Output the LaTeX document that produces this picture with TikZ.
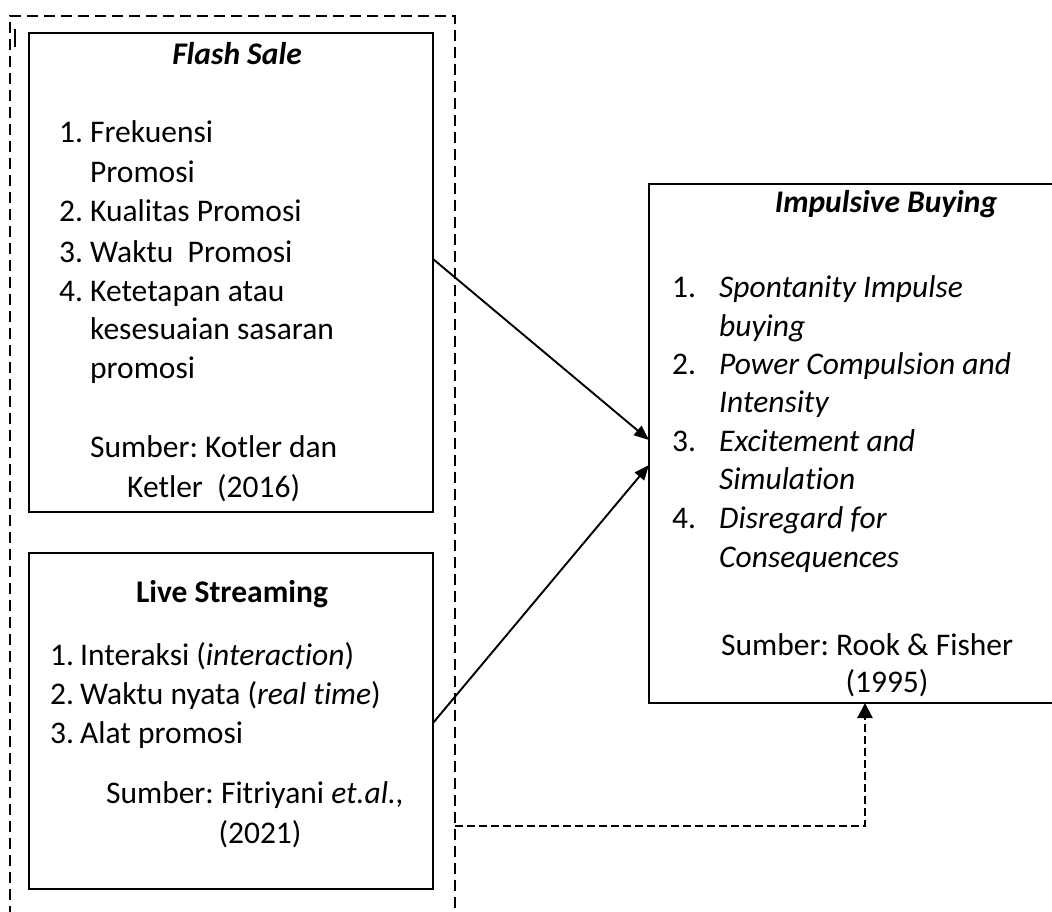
\documentclass[tikz,border=0pt]{standalone}
\usepackage{fontspec}
\setmainfont{Carlito}[Ligatures=NoCommon]
\usetikzlibrary{arrows.meta}
\begin{document}
\frenchspacing
\begin{tikzpicture}[x=1pt,y=-1pt,
  box/.style={draw,line width=2.7pt,inner sep=0pt,outer sep=0pt,anchor=north west},
  frame/.style={draw,line width=2.7pt,dash pattern=on 11pt off 6pt,inner sep=0pt,outer sep=0pt,anchor=north west},
  txt/.style={inner sep=0pt,anchor=base west,font=\fontsize{31.5}{38}\selectfont},
  ctxt/.style={txt,anchor=base},
  arr/.style={line width=1.9pt,-{Triangle[length=15pt,width=12pt]}},
  link/.style={line width=2.1pt,dash pattern=on 8pt off 4pt,-{Triangle[length=15pt,width=15pt]}}]
\clip (0,0) rectangle (1052,912);
% boxes
\node[frame,minimum width=445pt,minimum height=940pt] (grp) at (10,16) {};
\draw[line width=2.4pt] (15,29) -- (15,47);
\node[box,minimum width=404pt,minimum height=479pt] (fs) at (29,33) {};
\node[box,minimum width=404pt,minimum height=336pt] (ls) at (29,553) {};
\node[box,minimum width=412pt,minimum height=519pt] (ib) at (649,184) {};
% Flash Sale text
\node[ctxt] (fsT) at (237,65) {\textbf{\textit{Flash Sale}}};
\node[txt] (fs1n) at (59,143) {1.};
\node[txt] (fs1) at (90,143) {Frekuensi};
\node[txt] (fs1b) at (90,183) {Promosi};
\node[txt] (fs2n) at (59,222) {2.};
\node[txt] (fs2) at (90,222) {Kualitas Promosi};
\node[txt] (fs3n) at (59,262) {3.};
\node[txt] (fs3) at (90,262) {Waktu\ \ Promosi};
\node[txt] (fs4n) at (59,301) {4.};
\node[txt] (fs4) at (90,301) {Ketetapan atau};
\node[txt] (fs4b) at (90,339) {kesesuaian sasaran};
\node[txt] (fs4c) at (90,378) {promosi};
\node[txt] (fsS1) at (90,457) {Sumber: Kotler dan};
\node[txt] (fsS2) at (127,497) {Ketler\ \ (2016)};
% Live Streaming text
\node[ctxt] (lsT) at (232,602) {\textbf{Live Streaming}};
\node[txt] (ls1n) at (50,665) {1.};
\node[txt] (ls1) at (80,665) {Interaksi (\textit{interaction})};
\node[txt] (ls2n) at (50,704) {2.};
\node[txt] (ls2) at (80,704) {Waktu nyata (\textit{real time})};
\node[txt] (ls3n) at (50,743) {3.};
\node[txt] (ls3) at (80,743) {Alat promosi};
\node[ctxt] (lsS1) at (255,803) {Sumber: Fitriyani \textit{et.al.,}};
\node[ctxt] (lsS2) at (260,843) {(2021)};
% Impulsive Buying text
\node[ctxt] (ibT) at (886,213) {\textbf{\textit{Impulsive Buying}}};
\node[txt] (ib1n) at (672,297) {1.};
\node[txt] (ib1) at (719,297) {\textit{Spontanity Impulse}};
\node[txt] (ib1b) at (719,336) {\textit{buying}};
\node[txt] (ib2n) at (672,374) {2.};
\node[txt] (ib2) at (719,374) {\textit{Power Compulsion and}};
\node[txt] (ib2b) at (719,412) {\textit{Intensity}};
\node[txt] (ib3n) at (672,451) {3.};
\node[txt] (ib3) at (719,451) {\textit{Excitement and}};
\node[txt] (ib3b) at (719,489) {\textit{Simulation}};
\node[txt] (ib4n) at (672,528) {4.};
\node[txt] (ib4) at (719,528) {\textit{Disregard for}};
\node[txt] (ib4b) at (719,567) {\textit{Consequences}};
\node[txt] (ibS1) at (721,655) {Sumber: Rook \& Fisher};
\node[ctxt] (ibS2) at (887,692) {(1995)};
% connectors
\draw[arr] (fs.east |- 0,259) -- (ib.west |- 0,440);
\draw[arr] (ls.east |- 0,723) -- (ib.west |- 0,465);
\draw[link] (grp.east |- 0,826) -| (ib.south -| 865,0);
\end{tikzpicture}
\end{document}
